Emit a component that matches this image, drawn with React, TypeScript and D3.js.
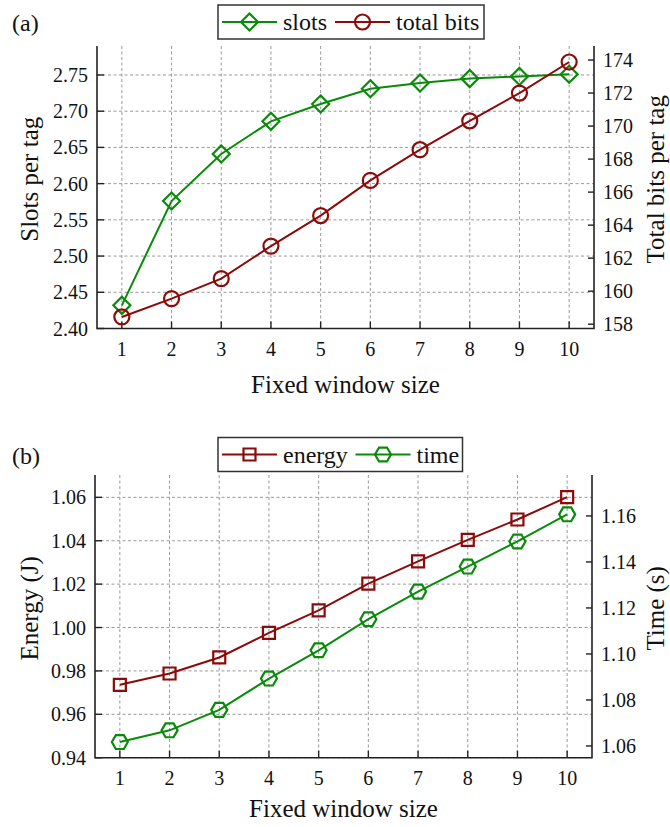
import React, { useEffect, useRef } from 'react';
import * as d3 from 'd3';

const windowSizes = [1, 2, 3, 4, 5, 6, 7, 8, 9, 10];
const slotsPerTag = [2.432, 2.576, 2.641, 2.686, 2.71, 2.731, 2.739, 2.745, 2.748, 2.751];
const totalBits = [158.44, 159.55, 160.76, 162.73, 164.58, 166.71, 168.57, 170.32, 172.0, 173.88];
const energy = [0.9736, 0.9788, 0.9862, 0.9975, 1.0079, 1.0202, 1.0305, 1.0404, 1.0498, 1.0601];
const time = [1.0617, 1.0668, 1.0757, 1.0893, 1.1016, 1.1151, 1.1271, 1.138, 1.1489, 1.1607];

const slotTicks = [2.4, 2.45, 2.5, 2.55, 2.6, 2.65, 2.7, 2.75];
const bitTicks = [158, 160, 162, 164, 166, 168, 170, 172, 174];
const energyTicks = [0.94, 0.96, 0.98, 1.0, 1.02, 1.04, 1.06];
const timeTicks = [1.06, 1.08, 1.1, 1.12, 1.14, 1.16];

const GREEN = '#0a8a0a';
const RED = '#8b0a0a';
const FONT = '"Liberation Serif", "Times New Roman", serif';

type Shape = 'diamond' | 'circle' | 'square' | 'hexagon';

function markerPath(shape: Shape): string {
    if (shape === 'diamond') return 'M0,-8.5L8.5,0L0,8.5L-8.5,0Z';
    if (shape === 'square') return 'M-6,-6L6,-6L6,6L-6,6Z';
    if (shape === 'hexagon') {
        const r = 8;
        const pts = d3.range(6).map(i => [r * Math.cos(i * Math.PI / 3), r * Math.sin(i * Math.PI / 3)]);
        return 'M' + pts.map(p => p.join(',')).join('L') + 'Z';
    }
    const r = 7.5;
    return `M${r},0A${r},${r} 0 1,1 ${-r},0A${r},${r} 0 1,1 ${r},0Z`;
}

interface PanelOpts {
    label: string;
    left: number; right: number; top: number; bottom: number;
    yLeftDomain: [number, number]; yRightDomain: [number, number];
    leftTicks: number[]; rightTicks: number[];
    leftFmt: (v: number) => string; rightFmt: (v: number) => string;
    leftTitle: string; rightTitle: string;
    leftSeries: { values: number[]; color: string; shape: Shape; name: string };
    rightSeries: { values: number[]; color: string; shape: Shape; name: string };
    legend: { x: number; y: number; w: number; h: number; gap: number };
    xTitleY: number;
}

function drawPanel(svg: d3.Selection<SVGSVGElement, unknown, null, undefined>, o: PanelOpts) {
    const x = d3.scaleLinear().domain([0.5, 10.5]).range([o.left, o.right]);
    const yL = d3.scaleLinear().domain(o.yLeftDomain).range([o.bottom, o.top]);
    const yR = d3.scaleLinear().domain(o.yRightDomain).range([o.bottom, o.top]);
    const g = svg.append('g');

    // grid
    g.selectAll('.vgrid').data(windowSizes).enter().append('line')
        .attr('x1', d => x(d)).attr('x2', d => x(d))
        .attr('y1', o.top).attr('y2', o.bottom)
        .attr('stroke', '#999').attr('stroke-width', 1).attr('stroke-dasharray', '3,2.5');
    g.selectAll('.hgrid').data(o.leftTicks).enter().append('line')
        .attr('x1', o.left).attr('x2', o.right)
        .attr('y1', d => yL(d)).attr('y2', d => yL(d))
        .attr('stroke', '#999').attr('stroke-width', 1).attr('stroke-dasharray', '3,2.5');

    // axes lines
    const axisColor = '#222';
    g.append('path')
        .attr('d', `M${o.left},${o.top}V${o.bottom}H${o.right}V${o.top}`)
        .attr('fill', 'none').attr('stroke', axisColor).attr('stroke-width', 1.6);

    // ticks
    g.selectAll('.xt').data(windowSizes).enter().append('line')
        .attr('x1', d => x(d)).attr('x2', d => x(d))
        .attr('y1', o.bottom).attr('y2', o.bottom - 7)
        .attr('stroke', axisColor).attr('stroke-width', 1.4);
    g.selectAll('.ylt').data(o.leftTicks).enter().append('line')
        .attr('x1', o.left).attr('x2', o.left + 7)
        .attr('y1', d => yL(d)).attr('y2', d => yL(d))
        .attr('stroke', axisColor).attr('stroke-width', 1.4);
    g.selectAll('.yrt').data(o.rightTicks).enter().append('line')
        .attr('x1', o.right).attr('x2', o.right - 6)
        .attr('y1', d => yR(d)).attr('y2', d => yR(d))
        .attr('stroke', axisColor).attr('stroke-width', 1.4);

    // tick labels
    const tl = g.append('g').style('font-family', FONT).style('font-size', '20px').attr('fill', '#111');
    tl.selectAll('.xl').data(windowSizes).enter().append('text')
        .attr('x', d => x(d)).attr('y', o.bottom + 27)
        .attr('text-anchor', 'middle').text(d => String(d));
    tl.selectAll('.yll').data(o.leftTicks).enter().append('text')
        .attr('x', o.left - 9).attr('y', d => yL(d) + 7)
        .attr('text-anchor', 'end').text(d => o.leftFmt(d));
    tl.selectAll('.yrl').data(o.rightTicks).enter().append('text')
        .attr('x', o.right + 9).attr('y', d => yR(d) + 7)
        .attr('text-anchor', 'start').text(d => o.rightFmt(d));

    // titles
    const tt = g.append('g').style('font-family', FONT).style('font-size', '25px').attr('fill', '#111');
    tt.append('text').attr('x', (o.left + o.right) / 2).attr('y', o.xTitleY)
        .attr('text-anchor', 'middle').text('Fixed window size');
    const cy = (o.top + o.bottom) / 2 - 8;
    tt.append('text').attr('transform', `translate(38,${cy}) rotate(-90)`)
        .attr('text-anchor', 'middle').text(o.leftTitle);
    tt.append('text').attr('transform', `translate(664,${cy}) rotate(-90)`)
        .attr('text-anchor', 'middle').text(o.rightTitle);
    g.append('text').attr('x', 12).attr('y', o.legend.y + 26)
        .style('font-family', FONT).style('font-size', '24px').attr('fill', '#111').text(o.label);

    // series
    const series = [
        { s: o.leftSeries, y: yL },
        { s: o.rightSeries, y: yR },
    ];
    series.forEach(({ s, y }) => {
        const line = d3.line<number>().x((_, i) => x(windowSizes[i])).y(d => y(d));
        g.append('path').attr('d', line(s.values) as string)
            .attr('fill', 'none').attr('stroke', s.color).attr('stroke-width', 2);
        g.selectAll(null).data(s.values).enter().append('path')
            .attr('d', markerPath(s.shape))
            .attr('transform', (d, i) => `translate(${x(windowSizes[i])},${y(d)})`)
            .attr('fill', 'none').attr('stroke', s.color).attr('stroke-width', 2.2);
    });

    // legend
    const L = o.legend;
    const lg = g.append('g');
    lg.append('rect').attr('x', L.x).attr('y', L.y).attr('width', L.w).attr('height', L.h)
        .attr('fill', 'white').attr('stroke', '#333').attr('stroke-width', 1.5);
    const cyL = L.y + L.h / 2;
    let cx = L.x + 4;
    [o.leftSeries, o.rightSeries].forEach((s, i) => {
        if (i === 1) cx = L.gap;
        lg.append('line').attr('x1', cx).attr('x2', cx + 55).attr('y1', cyL).attr('y2', cyL)
            .attr('stroke', s.color).attr('stroke-width', 2);
        lg.append('path').attr('d', markerPath(s.shape))
            .attr('transform', `translate(${cx + 27.5},${cyL})`)
            .attr('fill', 'none').attr('stroke', s.color).attr('stroke-width', 2.2);
        lg.append('text').attr('x', cx + 61).attr('y', cyL + 8)
            .style('font-family', FONT).style('font-size', '24px').attr('fill', '#111').text(s.name);
    });
}

export default function App() {
    const ref = useRef<SVGSVGElement>(null);

    useEffect(() => {
        const svg = d3.select(ref.current as SVGSVGElement);
        svg.selectAll('*').remove();

        drawPanel(svg, {
            label: '(a)',
            left: 97, right: 594, top: 46, bottom: 328.5,
            yLeftDomain: [2.4, 2.79], yRightDomain: [157.74, 174.85],
            leftTicks: slotTicks, rightTicks: bitTicks,
            leftFmt: d3.format('.2f'), rightFmt: d3.format('d'),
            leftTitle: 'Slots per tag', rightTitle: 'Total bits per tag',
            leftSeries: { values: slotsPerTag, color: GREEN, shape: 'diamond', name: 'slots' },
            rightSeries: { values: totalBits, color: RED, shape: 'circle', name: 'total bits' },
            legend: { x: 218, y: 5, w: 266, h: 34, gap: 335 },
            xTitleY: 393,
        });

        drawPanel(svg, {
            label: '(b)',
            left: 95, right: 592, top: 475, bottom: 757.7,
            yLeftDomain: [0.94, 1.0703], yRightDomain: [1.0549, 1.1778],
            leftTicks: energyTicks, rightTicks: timeTicks,
            leftFmt: d3.format('.2f'), rightFmt: d3.format('.2f'),
            leftTitle: 'Energy (J)', rightTitle: 'Time (s)',
            leftSeries: { values: energy, color: RED, shape: 'square', name: 'energy' },
            rightSeries: { values: time, color: GREEN, shape: 'hexagon', name: 'time' },
            legend: { x: 218, y: 437.5, w: 244.5, h: 34, gap: 355.5 },
            xTitleY: 817,
        });
    }, []);

    return (
        <svg ref={ref} width={670} height={827}
            style={{ position: 'absolute', left: 0, top: 0, background: 'white' }} />
    );
}
